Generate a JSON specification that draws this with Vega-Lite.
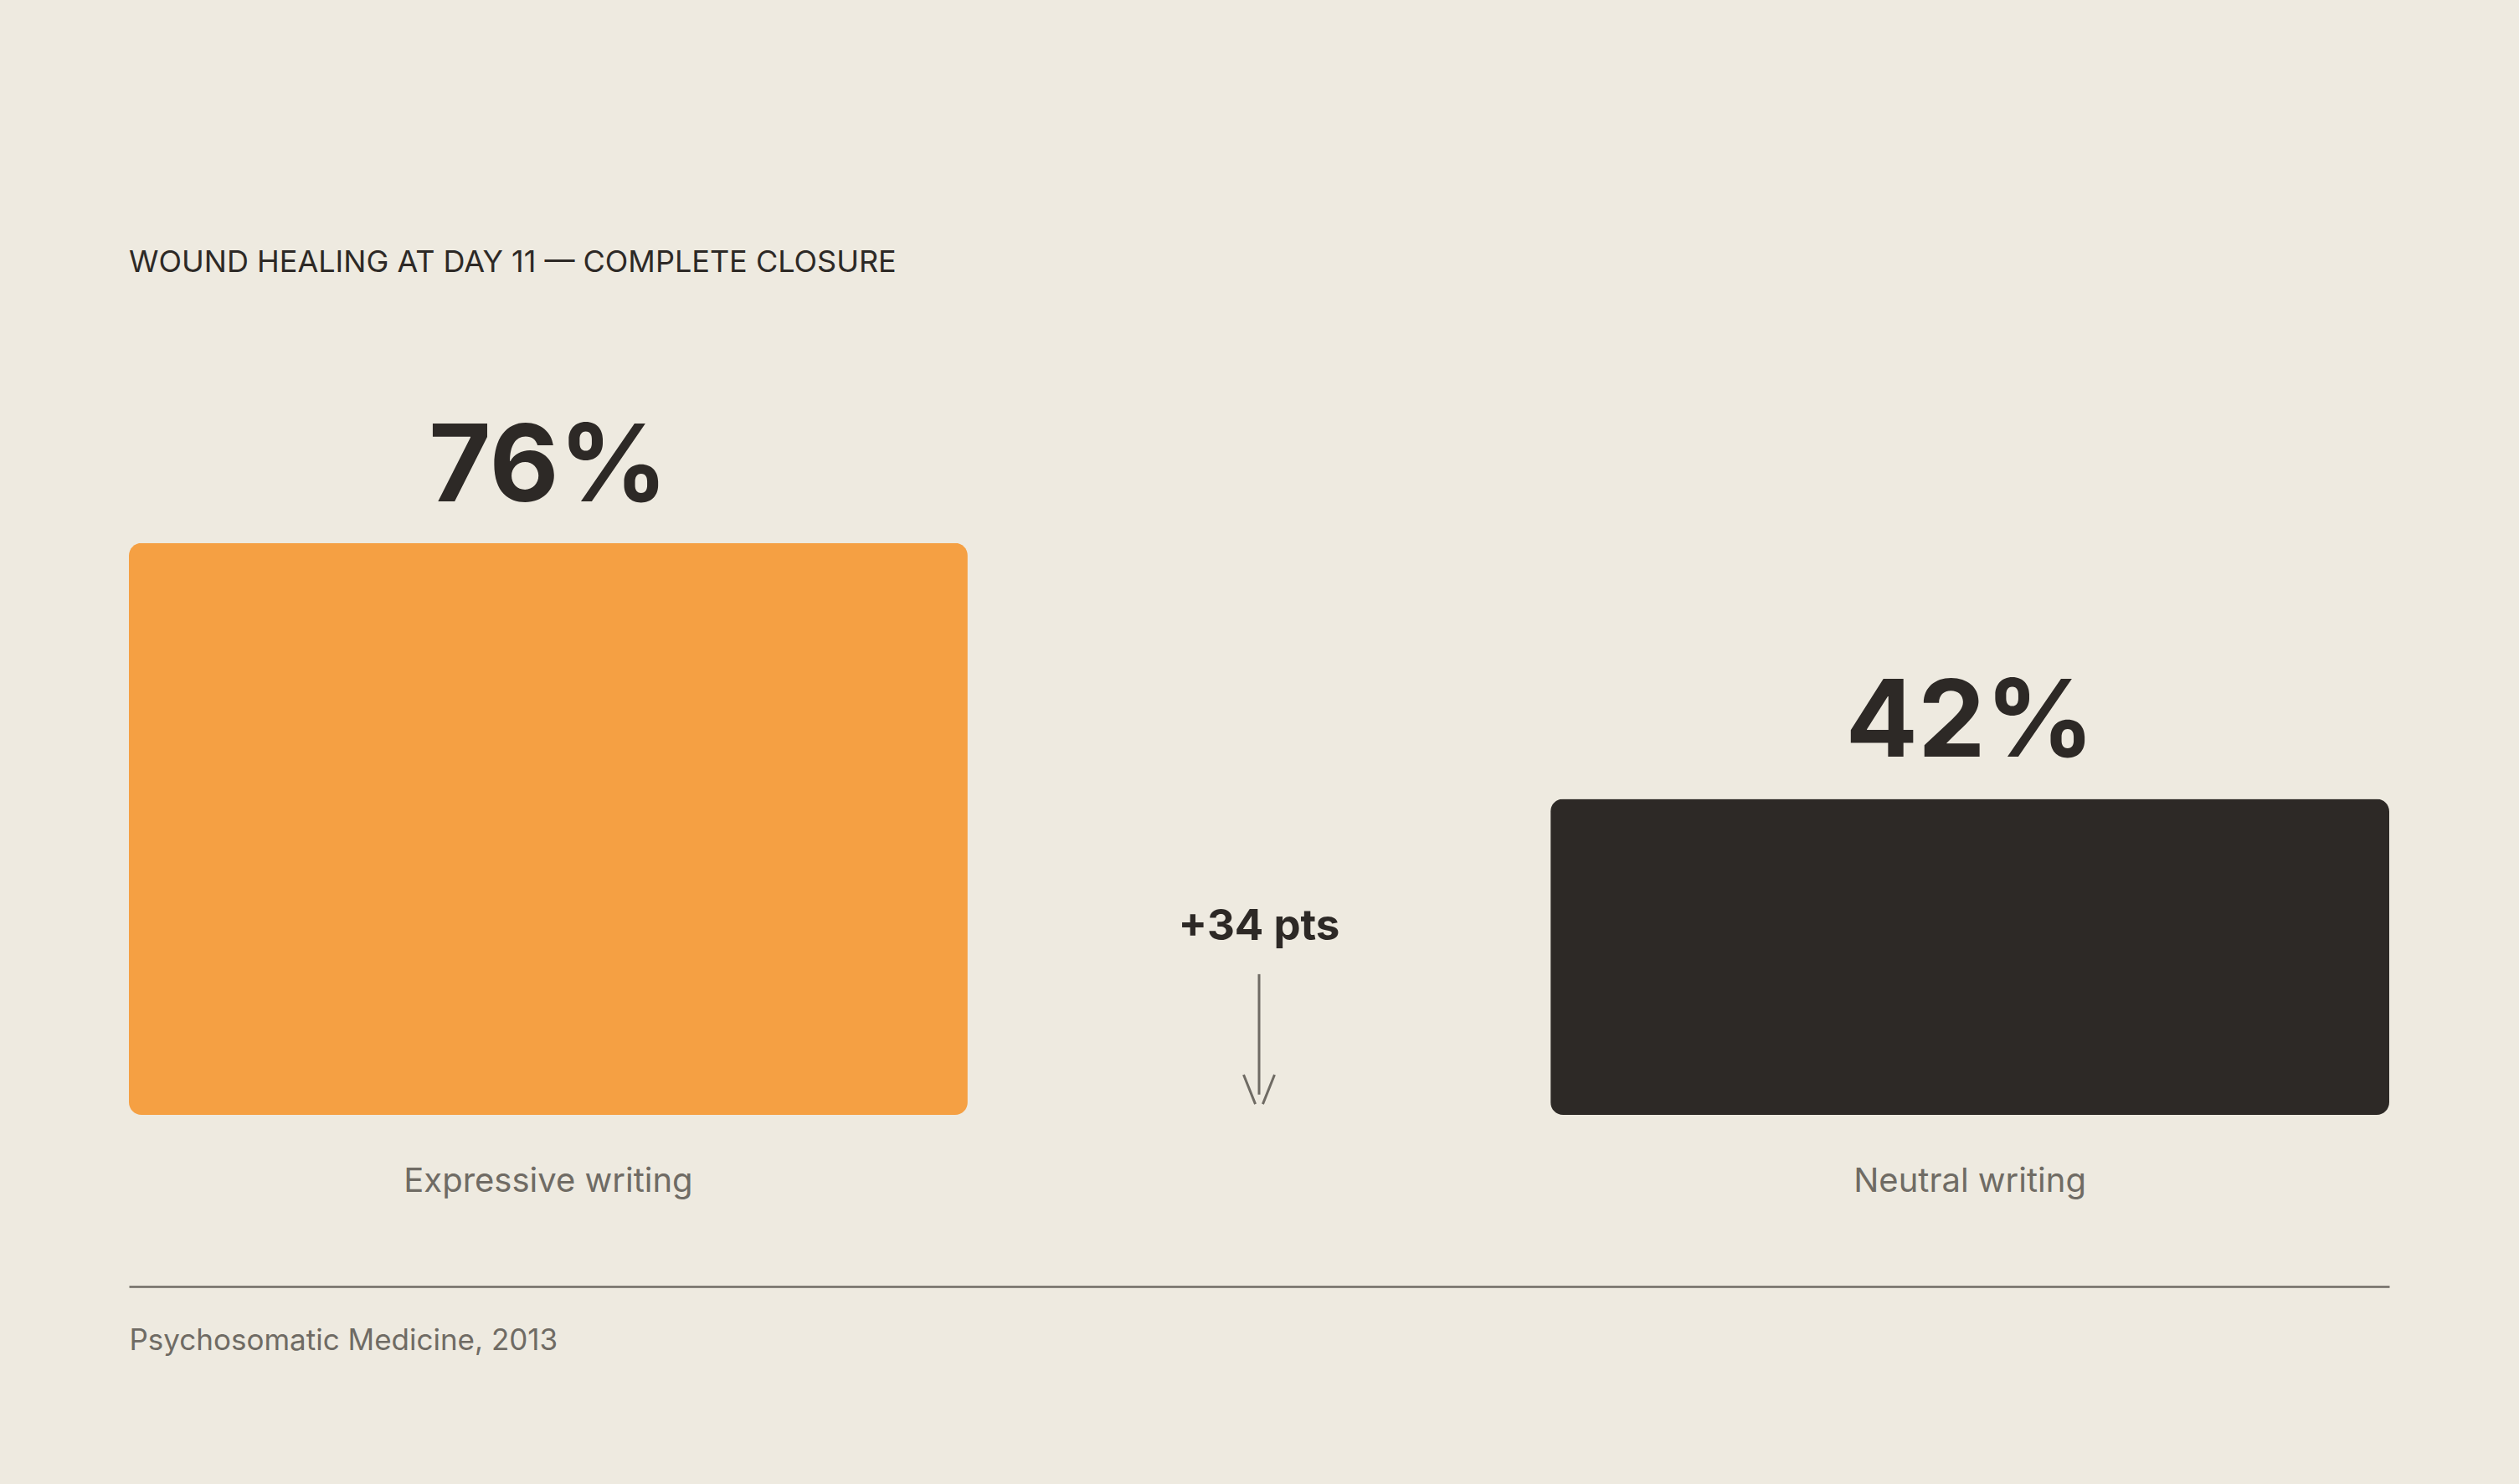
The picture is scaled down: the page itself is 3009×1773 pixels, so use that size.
{
  "$schema": "https://vega.github.io/schema/vega-lite/v6.json",
  "width": 2700,
  "height": 899,
  "autosize": "none",
  "padding": {"left": 154, "top": 433, "right": 155, "bottom": 441},
  "background": "#EEEAE0",
  "config": {"font": "Inter", "view": {"stroke": null}},
  "title": {
    "text": "WOUND HEALING AT DAY 11 — COMPLETE CLOSURE",
    "anchor": "start",
    "frame": "group",
    "orient": "top",
    "offset": 72,
    "baseline": "alphabetic",
    "fontSize": 36,
    "fontWeight": 400,
    "color": "#2D2926"
  },
  "layer": [
    {
      "data": {
        "values": [
          {"group": "Expressive writing", "value": 76},
          {"group": "Neutral writing", "value": 42}
        ]
      },
      "encoding": {
        "x": {
          "field": "group",
          "type": "nominal",
          "sort": null,
          "scale": {"paddingInner": 0.41, "paddingOuter": 0},
          "title": "Psychosomatic Medicine, 2013",
          "axis": {
            "orient": "bottom",
            "offset": 205,
            "domainColor": "#6F6B64",
            "domainWidth": 2.5,
            "ticks": false,
            "tickSize": 0,
            "labelPadding": -114,
            "labelBaseline": "alphabetic",
            "labelFontSize": 40,
            "labelColor": "#6F6B64",
            "labelAngle": 0,
            "labelLimit": 0,
            "titleAnchor": "start",
            "titleAlign": "left",
            "titleBaseline": "alphabetic",
            "titleX": 0,
            "titleY": 75,
            "titleFontSize": 35,
            "titleFontWeight": 400,
            "titleColor": "#6F6B64"
          }
        },
        "y": {
          "field": "value",
          "type": "quantitative",
          "scale": {"domain": [0, 100]},
          "axis": null
        }
      },
      "layer": [
        {
          "mark": {"type": "bar", "cornerRadius": 15},
          "encoding": {
            "color": {
              "field": "group",
              "type": "nominal",
              "scale": {
                "domain": ["Expressive writing", "Neutral writing"],
                "range": ["#F5A043", "#2D2926"]
              },
              "legend": null
            }
          }
        },
        {
          "transform": [{"calculate": "datum.value + '%'", "as": "label"}],
          "mark": {
            "type": "text",
            "dy": -50,
            "baseline": "alphabetic",
            "fontSize": 128,
            "fontWeight": 700,
            "color": "#2D2926"
          },
          "encoding": {"text": {"field": "label"}}
        }
      ]
    },
    {
      "data": {"values": [{"label": "+34 pts"}]},
      "encoding": {
        "x": {
          "field": "label",
          "type": "nominal",
          "scale": {"type": "point"},
          "axis": null
        }
      },
      "layer": [
        {
          "mark": {
            "type": "text",
            "baseline": "alphabetic",
            "fontSize": 51,
            "fontWeight": 700,
            "color": "#2D2926"
          },
          "encoding": {
            "y": {"datum": 23.25, "type": "quantitative"},
            "text": {"field": "label"}
          }
        },
        {
          "mark": {"type": "rule", "color": "#6F6B64", "strokeWidth": 3},
          "encoding": {
            "y": {"datum": 18.7, "type": "quantitative"},
            "y2": {"datum": 2.7}
          }
        },
        {
          "mark": {
            "type": "point",
            "shape": "M-1,-0.95L-0.24,0.95M1,-0.95L0.24,0.95",
            "filled": false,
            "size": 1369,
            "strokeWidth": 3,
            "opacity": 1,
            "color": "#6F6B64"
          },
          "encoding": {
            "y": {"datum": 3.39, "type": "quantitative"}
          }
        }
      ]
    }
  ],
  "resolve": {"scale": {"x": "independent"}}
}
